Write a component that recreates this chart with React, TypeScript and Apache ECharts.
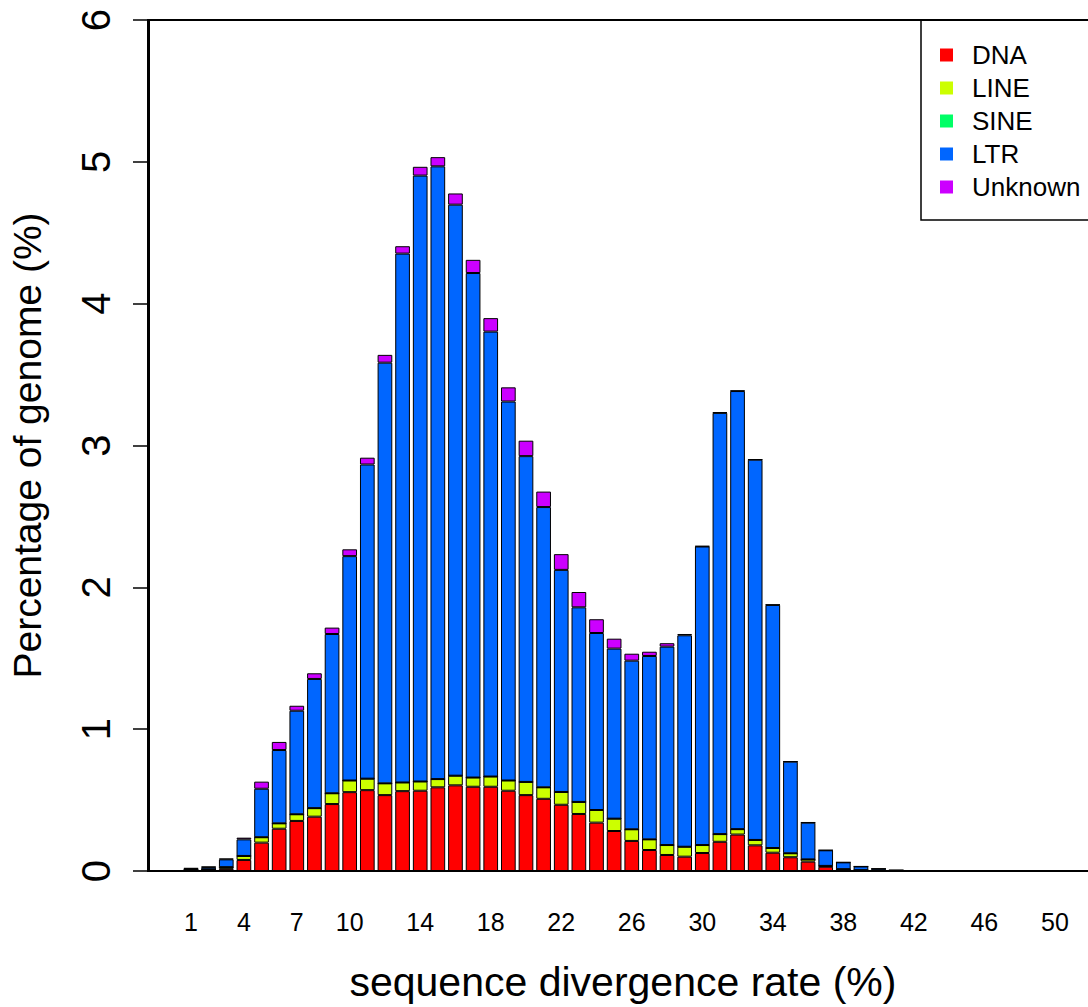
import React, { useEffect, useRef } from "react";
import * as echarts from "echarts";

const categories: string[] = Array.from({ length: 50 }, (_, i) => String(i + 1));
const shownTickLabels: string[] = ["1", "4", "7", "10", "14", "18", "22", "26", "30", "34", "38", "42", "46", "50"];
const yTicks = { min: 0, max: 6, interval: 1 };

const dnaValues: number[] = [
  0.005, 0.008, 0.015, 0.078, 0.2, 0.298, 0.353, 0.383, 0.472, 0.556,
  0.57, 0.535, 0.563, 0.566, 0.59, 0.604, 0.594, 0.594, 0.566, 0.535,
  0.509, 0.467, 0.402, 0.341, 0.282, 0.212, 0.148, 0.113, 0.101, 0.127,
  0.206, 0.257, 0.181, 0.129, 0.097, 0.066, 0.03, 0.01, 0.005, 0.002,
  0, 0, 0, 0, 0, 0, 0, 0, 0, 0,
];
const lineValues: number[] = [
  0.002, 0.004, 0.012, 0.028, 0.038, 0.038, 0.047, 0.06, 0.076, 0.082,
  0.081, 0.083, 0.061, 0.065, 0.058, 0.068, 0.065, 0.072, 0.072, 0.093,
  0.081, 0.09, 0.085, 0.089, 0.087, 0.082, 0.075, 0.07, 0.07, 0.056,
  0.054, 0.038, 0.038, 0.033, 0.028, 0.016, 0.006, 0.003, 0.001, 0.001,
  0, 0, 0, 0, 0, 0, 0, 0, 0, 0,
];
const sineValues: number[] = [
  0, 0, 0, 0, 0, 0, 0, 0, 0, 0,
  0, 0, 0, 0, 0, 0, 0, 0, 0, 0,
  0, 0, 0, 0, 0, 0, 0, 0, 0, 0,
  0, 0, 0, 0, 0, 0, 0, 0, 0, 0,
  0, 0, 0, 0, 0, 0, 0, 0, 0, 0,
];
const ltrValues: number[] = [
  0.01, 0.015, 0.055, 0.117, 0.342, 0.517, 0.73, 0.911, 1.123, 1.582,
  2.215, 2.966, 3.729, 4.272, 4.32, 4.026, 3.557, 3.137, 2.672, 2.297,
  1.976, 1.566, 1.372, 1.248, 1.199, 1.189, 1.293, 1.399, 1.491, 2.105,
  2.97, 3.089, 2.681, 1.714, 0.646, 0.259, 0.11, 0.048, 0.026, 0.013,
  0.006, 0.003, 0.002, 0, 0, 0, 0, 0, 0, 0,
];
const unknownValues: number[] = [
  0.003, 0.003, 0.005, 0.012, 0.05, 0.057, 0.035, 0.04, 0.045, 0.048,
  0.048, 0.055, 0.052, 0.062, 0.065, 0.079, 0.093, 0.095, 0.1, 0.109,
  0.109, 0.111, 0.108, 0.097, 0.07, 0.049, 0.03, 0.024, 0.009, 0.003,
  0.004, 0.003, 0.002, 0.002, 0.002, 0.002, 0.001, 0, 0, 0,
  0, 0, 0, 0, 0, 0, 0, 0, 0, 0,
];

const seriesNames = ["DNA", "LINE", "SINE", "LTR", "Unknown"];
const seriesColors = ["#FF0000", "#CCFF00", "#00FF66", "#0066FF", "#CC00FF"];
const seriesValues = [dnaValues, lineValues, sineValues, ltrValues, unknownValues];

const FONT = "'Liberation Sans', Arial, Helvetica, sans-serif";

export default function App() {
  const ref = useRef<HTMLDivElement>(null);
  useEffect(() => {
    if (!ref.current) return;
    const chart = echarts.init(ref.current, null, { renderer: "svg" });
    const option = {
      animation: false,
      backgroundColor: "#ffffff",
      textStyle: { fontFamily: FONT, color: "#000" },
      grid: { left: 181.2, right: 24.3, top: 20, bottom: 136 },
      legend: {
        orient: "vertical",
        left: 921,
        top: 20,
        padding: [22, 30, 20, 19],
        itemGap: 7,
        itemWidth: 13,
        itemHeight: 13,
        icon: "rect",
        borderColor: "#000",
        borderWidth: 1.5,
        backgroundColor: "#fff",
        data: seriesNames,
        textStyle: { fontSize: 26, color: "#000", fontFamily: FONT, padding: [0, 0, 0, 14] },
        itemStyle: { borderWidth: 0 },
      },
      xAxis: {
        type: "category",
        data: categories,
        axisLine: { show: false },
        axisTick: { show: false },
        axisLabel: {
          fontSize: 25,
          color: "#000",
          fontFamily: FONT,
          margin: 38,
          interval: (_i: number, v: string) => shownTickLabels.includes(v),
        },
        name: "sequence divergence rate (%)",
        nameLocation: "middle",
        nameGap: 90,
        nameTextStyle: { fontSize: 41, color: "#000", fontFamily: FONT },
      },
      yAxis: {
        type: "value",
        min: yTicks.min,
        max: yTicks.max,
        interval: yTicks.interval,
        offset: 33.2,
        splitLine: { show: false },
        axisLine: { show: true, lineStyle: { color: "#000", width: 2 } },
        axisTick: { show: true, length: 16, lineStyle: { color: "#000", width: 1.5 } },
        axisLabel: { fontSize: 40, color: "#000", rotate: 90, margin: 33, fontFamily: FONT },
        name: "Percentage of genome (%)",
        nameLocation: "middle",
        nameGap: 102,
        nameTextStyle: { fontSize: 39, color: "#000", fontFamily: FONT },
      },
      graphic: [
        {
          type: "rect",
          z: 100,
          silent: true,
          shape: { x: 148, y: 20, width: 950, height: 851 },
          style: { fill: "none", stroke: "#000", lineWidth: 2 },
        },
      ],
      series: seriesNames.map((name, k) => ({
        name,
        type: "bar",
        stack: "total",
        barWidth: "83.33%",
        data: seriesValues[k],
        itemStyle: { color: seriesColors[k], borderColor: "#000", borderWidth: 1 },
      })),
    };
    chart.setOption(option as any);
    return () => chart.dispose();
  }, []);
  return (
    <div
      ref={ref}
      style={{ position: "absolute", left: 0, top: 0, width: 1088, height: 1007 }}
    />
  );
}
